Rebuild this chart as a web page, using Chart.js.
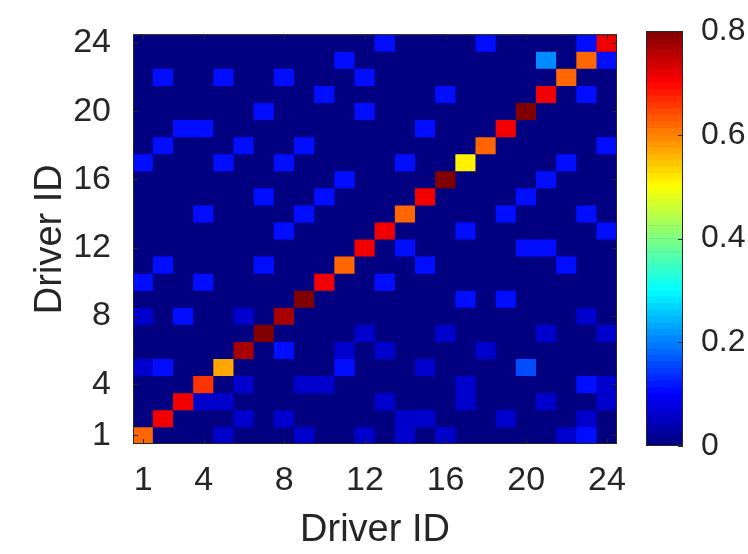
<!DOCTYPE html>
<html>
<head>
<meta charset="utf-8">
<script src="https://cdn.jsdelivr.net/npm/chart.js"></script>
<style>
  html, body { margin: 0; padding: 0; background: #fff; }
  #wrap { position: relative; width: 748px; height: 554px; }
  #heat { position: absolute; left: 0; top: 0; }
  #cbar { position: absolute; left: 640px; top: 0; }
</style>
</head>
<body>
<div id="wrap">
  <canvas id="heat" width="640" height="554"></canvas>
  <canvas id="cbar" width="108" height="554"></canvas>
</div>
<script>
// Driver IDs on both axes
const driverIds = Array.from({ length: 24 }, (_, i) => String(i + 1));
const tickIds = [1, 4, 8, 12, 16, 20, 24];
const colorTicks = [0, 0.2, 0.4, 0.6, 0.8];
const colorMax = 0.8;

// Rows listed from driver 24 (top) down to driver 1 (bottom), columns 1..24
const rowIds = [24, 23, 22, 21, 20, 19, 18, 17, 16, 15, 14, 13, 12, 11, 10, 9, 8, 7, 6, 5, 4, 3, 2, 1];
const cellValues = [
  [0,0,0,0,0,0,0,0,0,0,0,0,.11,0,0,0,0,.11,0,0,0,0,.11,.71],
  [0,0,0,0,0,0,0,0,0,0,.11,0,0,0,0,0,0,0,0,0,.21,0,.62,.11],
  [0,.11,0,0,.11,0,0,.11,0,0,0,.11,0,0,0,0,0,0,0,0,0,.62,0,0],
  [0,0,0,0,0,0,0,0,0,.11,0,0,0,0,0,.11,0,0,0,0,.71,0,.11,0],
  [0,0,0,0,0,0,.11,0,0,0,0,.11,0,0,0,0,0,0,0,.8,0,0,0,0],
  [0,0,.11,.11,0,0,0,0,0,0,0,0,0,0,.11,0,0,0,.71,0,0,0,0,0],
  [0,.11,0,0,0,.11,0,0,.11,0,0,0,0,0,0,0,0,.62,0,0,0,0,0,.11],
  [.11,0,0,0,.11,0,0,.11,0,0,0,0,0,.11,0,0,.51,0,0,0,0,.11,0,0],
  [0,0,0,0,0,0,0,0,0,0,.11,0,0,0,0,.8,0,0,0,0,.11,0,0,0],
  [0,0,0,0,0,0,.11,0,0,.11,0,0,0,0,.71,0,0,0,0,.11,0,0,0,0],
  [0,0,0,.11,0,0,0,0,.11,0,0,0,0,.62,0,0,0,0,.11,0,0,0,.11,0],
  [0,0,0,0,0,0,0,.11,0,0,0,0,.71,0,0,0,.11,0,0,0,0,0,0,.11],
  [0,0,0,0,0,0,0,0,0,0,0,.71,0,.11,0,0,0,0,0,.11,.11,0,0,0],
  [0,.11,0,0,0,0,.11,0,0,0,.62,0,0,0,.11,0,0,0,0,0,0,.11,0,0],
  [.11,0,0,.11,0,0,0,0,0,.71,0,0,.11,0,0,0,0,0,0,0,0,0,0,0],
  [0,0,0,0,0,0,0,0,.8,0,0,0,0,0,0,0,.11,0,.11,0,0,0,0,0],
  [.06,0,.11,0,0,.06,0,.77,0,0,0,0,0,0,0,0,0,0,0,0,0,0,.06,0],
  [0,0,0,0,0,0,.8,0,0,0,0,.06,0,0,0,.06,0,0,0,0,.06,0,0,.06],
  [0,0,0,0,0,.77,0,.11,0,0,.06,0,.06,0,0,0,0,.06,0,0,0,0,0,0],
  [.06,.11,0,0,.57,0,0,0,0,0,.11,0,0,0,.06,0,0,0,0,.16,0,0,0,0],
  [0,0,0,.66,0,.06,0,0,.06,.06,0,0,0,0,0,0,.06,0,0,0,0,0,.11,.06],
  [0,0,.71,.06,.06,0,0,0,0,0,0,0,.06,0,0,0,.06,0,0,0,.06,0,0,.06],
  [0,.71,0,0,0,.06,0,.06,0,0,0,0,0,.06,.06,0,0,0,.06,0,0,0,.06,0],
  [.62,0,0,0,.06,0,0,0,.06,0,0,.06,0,.06,0,.06,0,0,0,0,0,.06,.11,0]
];

const FONT = "'Liberation Sans', Arial, Helvetica, sans-serif";
const INK = '#262626';

// MATLAB-style jet colormap
function jet(t) {
  t = Math.max(0, Math.min(1, t));
  const c = v => Math.round(255 * Math.max(0, Math.min(1, v)));
  return `rgb(${c(1.5 - Math.abs(4 * t - 3))},${c(1.5 - Math.abs(4 * t - 2))},${c(1.5 - Math.abs(4 * t - 1))})`;
}

// draws the axes box and small inward tick marks (MATLAB look)
const boxPlugin = {
  id: 'box',
  beforeDatasetsDraw(chart) {
    const { ctx, chartArea: a } = chart;
    ctx.save();
    ctx.fillStyle = jet(0);
    ctx.fillRect(a.left, a.top, a.right - a.left, a.bottom - a.top);
    ctx.restore();
  },
  afterDatasetsDraw(chart, args, opts) {
    const { ctx, chartArea: a } = chart;
    ctx.save();
    ctx.strokeStyle = INK;
    ctx.lineWidth = 1;
    ctx.strokeRect(a.left + 0.5, a.top + 0.5, a.right - a.left - 1, a.bottom - a.top - 1);
    const len = 5;
    ctx.beginPath();
    if (opts.xTicks) {
      opts.xTicks.forEach(v => {
        const x = Math.round(chart.scales.x.getPixelForValue(v - 1)) + 0.5;
        ctx.moveTo(x, a.bottom); ctx.lineTo(x, a.bottom - len);
        ctx.moveTo(x, a.top); ctx.lineTo(x, a.top + len);
      });
    }
    (opts.yTicks || []).forEach(v => {
      const y = Math.round(chart.scales.y.getPixelForValue(v)) + 0.5;
      if (opts.left !== false) { ctx.moveTo(a.left, y); ctx.lineTo(a.left + len, y); }
      ctx.moveTo(a.right, y); ctx.lineTo(a.right - len, y);
    });
    ctx.stroke();
    ctx.restore();
  }
};

// one floating-bar dataset per row of drivers
const heatDatasets = rowIds.map((r, i) => ({
  data: cellValues[i].map(() => [r - 0.5, r + 0.5]),
  backgroundColor: cellValues[i].map(v => jet(v / colorMax)),
  borderWidth: 0,
  barPercentage: 1,
  categoryPercentage: 1,
  grouped: false
}));

new Chart(document.getElementById('heat'), {
  type: 'bar',
  data: { labels: driverIds, datasets: heatDatasets },
  options: {
    responsive: false,
    animation: false,
    layout: { padding: { left: 0, top: 31, right: 23, bottom: 0 } },
    plugins: {
      legend: { display: false },
      tooltip: { enabled: false },
      box: { xTicks: tickIds, yTicks: tickIds }
    },
    scales: {
      x: {
        grid: { display: false },
        border: { display: false },
        ticks: {
          autoSkip: false, maxRotation: 0, padding: 8,
          color: INK, font: { family: FONT, size: 34 },
          callback: (v, i) => tickIds.includes(i + 1) ? driverIds[i] : ''
        },
        title: {
          display: true, text: 'Driver ID', color: INK,
          font: { family: FONT, size: 38 }, padding: { top: 0, bottom: 1 }
        },
        afterFit: s => { s.height = 110; }
      },
      y: {
        min: 0.5, max: 24.5,
        grid: { display: false },
        border: { display: false },
        afterBuildTicks: s => { s.ticks = tickIds.map(v => ({ value: v })); },
        ticks: {
          padding: 14, color: INK, font: { family: FONT, size: 34 },
          callback: v => String(v)
        },
        title: {
          display: true, text: 'Driver ID', color: INK,
          font: { family: FONT, size: 38 }, padding: { top: 28, bottom: 0 }
        },
        afterFit: s => { s.width = 133; }
      }
    }
  },
  plugins: [boxPlugin]
});

// colour bar: 64 bands of the jet map
const bandCount = 64;
const bandDatasets = Array.from({ length: bandCount }, (_, i) => ({
  data: [[i * colorMax / bandCount, (i + 1) * colorMax / bandCount]],
  backgroundColor: jet((i + 0.5) / bandCount),
  borderWidth: 0,
  barPercentage: 1,
  categoryPercentage: 1,
  grouped: false
}));

new Chart(document.getElementById('cbar'), {
  type: 'bar',
  data: { labels: [''], datasets: bandDatasets },
  options: {
    responsive: false,
    animation: false,
    layout: { padding: { left: 6, top: 31, right: 0, bottom: 108 } },
    plugins: {
      legend: { display: false },
      tooltip: { enabled: false },
      box: { yTicks: colorTicks, left: false }
    },
    scales: {
      x: { display: false },
      y: {
        position: 'right',
        min: 0, max: colorMax,
        grid: { display: false },
        border: { display: false },
        afterBuildTicks: s => { s.ticks = colorTicks.map(v => ({ value: v })); },
        ticks: {
          padding: 10, color: INK, font: { family: FONT, size: 32 },
          callback: v => String(v)
        },
        afterFit: s => { s.width = 65; }
      }
    }
  },
  plugins: [boxPlugin]
});
</script>
</body>
</html>
